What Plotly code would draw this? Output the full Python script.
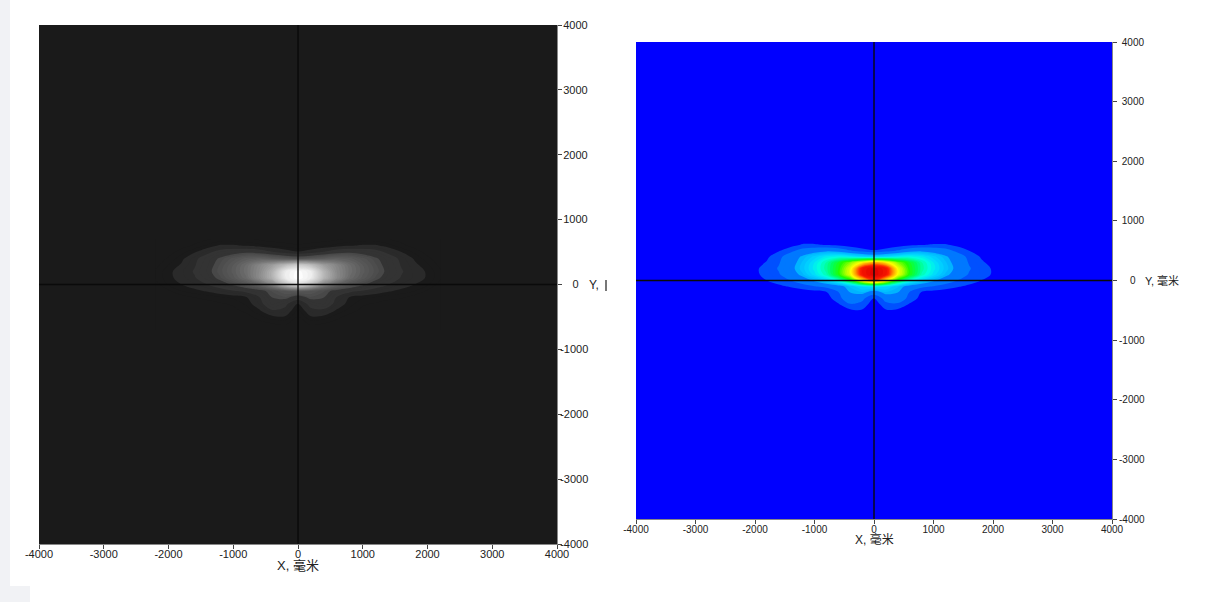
import plotly.graph_objects as go

W, H = 1212, 602
x_mm = [-2200,-2000,-1800,-1600,-1400,-1200,-1000,-800,-600,-400,-200,0,200,400,600,800,1000,1200,1400,1600,1800,2000,2200]
y_mm = [700,600,500,400,300,200,100,0,-100,-200,-300,-400,-500,-600,-700]
intensity = [
 [0,0,0,1,2,3.5,3.5,3,2,1,1,0.5,1,1,2,3,3.5,3.5,2.5,1,0,0,0],
 [0,0,1,3,5.5,8,8,7,6,4.5,3.5,3,3.5,4.5,6,7,8,8,6,3.5,1,0,0],
 [0,1,4,7,11,15,17,18.5,17,13,10,8,10,13,17,18.5,17,15,11,7.5,4.5,1,0],
 [0,3,6.5,11,16,21,26,31,33,31,28,26,28,31,33,31,26,21,16,11,7,3.5,0],
 [1.5,5,8,12,17,23,30,38,48,58,70,78,72,58,48,38,30,23,17,12,8.5,5.5,1.5],
 [3,6.5,9.5,13,18,24,31,39,50,66,92,99,93,68,50,39,31,24,18,13,9.5,7,3],
 [3,6.5,9,12,16,22,29,37,50,66,92,100,93,68,50,37,29,22,16,12,9.5,7,3],
 [1,5.5,7.5,9.5,12.5,16,21,27,35,48,70,85,70,48,35,27,21,16,12.5,9.5,7.5,5.5,1],
 [0,2,5,6.5,8,10,12,14,17,23,28,30,28,23,17,14,12,10,8,6.5,5,2,0],
 [0,0,1,2.5,3.5,4.5,5.5,7,12,20,22,16,22,20,12,7,5.5,4.5,3.5,3,1,0,0],
 [0,0,0,0,1,2,3,5.5,10,18,14,7,15,18,10,6,3,2,1,0,0,0,0],
 [0,0,0,0,0,1,1.5,3.5,7,12,11,4,11,11,7,4,1.5,1,0,0,0,0,0],
 [0,0,0,0,0,0,0.5,1,4,6.5,7,2.5,7,6.5,3.5,1,0.5,0,0,0,0,0,0],
 [0,0,0,0,0,0,0,0,1,2.5,3,1,3,2.5,1,0,0,0,0,0,0,0,0],
 [0,0,0,0,0,0,0,0,0,0,0,0,0,0,0,0,0,0,0,0,0,0,0],
]
tick_vals = [-4000,-3000,-2000,-1000,0,1000,2000,3000,4000]
x_tick_text = ["-4000","-3000","-2000","-1000","0","1000","2000","3000","4000"]
y_tick_text = ["-4000","-3000","-2000","-1000","\u00a0\u00a0\u00a0\u00a00","\u00a01000","\u00a02000","\u00a03000","\u00a04000"]

jet_scale = [
 [0,"#0000ff"],[0.04,"#0000ff"],[0.04,"#0050ff"],[0.10,"#0050ff"],[0.10,"#0078ff"],[0.17,"#0078ff"],
 [0.17,"#00a8ff"],[0.26,"#00d8ff"],[0.32,"#00ffe0"],[0.42,"#00ff60"],[0.5,"#20ff00"],[0.6,"#b0ff00"],
 [0.68,"#ffff00"],[0.78,"#ffa000"],[0.88,"#ff2000"],[1,"#e00000"]]
gray_scale = [
 [0,"#1a1a1a"],[0.04,"#1a1a1a"],[0.04,"#2a2a2a"],[0.10,"#2a2a2a"],[0.10,"#333333"],[0.17,"#333333"],
 [0.17,"#444444"],[0.3,"#5c5c5c"],[0.45,"#808080"],[0.65,"#b0b0b0"],[0.85,"#dcdcdc"],[0.95,"#f2f2f2"],[1,"#ffffff"]]

fig = go.Figure()
panels = [
    dict(sx="x", sy="y", l=39, r=557, t=25, b=544, scale=gray_scale, bg="#1a1a1a", fs=11, xs=-4, ys=-4, tfs=13, ty=-21),
    dict(sx="x2", sy="y2", l=636, r=1112, t=42, b=519, scale=jet_scale, bg="#0000ff", fs=10, xs=-3, ys=0, tfs=12, ty=-20),
]
layout = dict(width=W, height=H, autosize=False, margin=dict(l=0,r=0,t=0,b=0,pad=0,autoexpand=False),
              paper_bgcolor="white", showlegend=False,
              font=dict(family="Liberation Sans, Noto Sans CJK SC", color="#222222"))
shapes, annos = [], []
for i, p in enumerate(panels):
    fig.add_trace(go.Contour(x=x_mm, y=y_mm, z=intensity, xaxis=p["sx"], yaxis=p["sy"],
        colorscale=p["scale"], zmin=0, zmax=100, showscale=False, hoverinfo="skip",
        contours=dict(coloring="fill", start=2.5, end=100, size=2.5, showlines=False),
        line=dict(width=0), line_smoothing=1))
    suffix = "" if i == 0 else "2"
    common = dict(range=[-4000,4000], tickmode="array", tickvals=tick_vals, ticks="outside",
                  ticklen=4, tickcolor="#444444", tickwidth=1, showgrid=False, zeroline=False,
                  showline=True, linecolor="#888888", linewidth=1,
                  tickfont=dict(size=p["fs"], color="#222222"))
    layout["xaxis"+suffix] = dict(common, domain=[p["l"]/W, p["r"]/W], ticktext=x_tick_text,
        anchor="y"+suffix, side="bottom", ticklabelstandoff=p["xs"])
    layout["yaxis"+suffix] = dict(common, domain=[1-p["b"]/H, 1-p["t"]/H], ticktext=y_tick_text,
        anchor="x"+suffix, side="right", ticklabelstandoff=p["ys"])
    shapes.append(dict(type="rect", xref=f"{p['sx']} domain", yref=f"{p['sy']} domain", x0=0,x1=1,y0=0,y1=1,
                       fillcolor=p["bg"], line_width=0, layer="below"))
    for a in [dict(x0=0,x1=0,y0=-4000,y1=4000), dict(x0=-4000,x1=4000,y0=0,y1=0)]:
        shapes.append(dict(type="line", xref=p["sx"], yref=p["sy"], line=dict(color="#0a0a0a", width=1.4), layer="above", **a))
    annos.append(dict(x=0, xref=p["sx"], y=-4000, yref=p["sy"], yshift=p["ty"], yanchor="middle", xanchor="center",
                      text="X, 毫米", showarrow=False, font=dict(size=p["tfs"],color="#222222")))
annos.append(dict(x=4000, xref="x", y=0, yref="y", xshift=30, xanchor="left", yanchor="middle",
                  text="Y,", showarrow=False, font=dict(size=12,color="#222222")))
annos.append(dict(x=4000, xref="x2", y=0, yref="y2", xshift=31, xanchor="left", yanchor="middle",
                  text="Y, 毫米", showarrow=False, font=dict(size=11,color="#222222")))
# page strips around the screenshot
shapes.append(dict(type="rect", xref="paper", yref="paper", x0=0, x1=10/W, y0=0, y1=1, fillcolor="#f1f2f5", line_width=0, layer="below"))
shapes.append(dict(type="rect", xref="paper", yref="paper", x0=0, x1=30/W, y0=0, y1=1-586/H, fillcolor="#f1f2f5", line_width=0, layer="below"))
shapes.append(dict(type="rect", xref="paper", yref="paper", x0=605/W, x1=607/W, y0=1-291/H, y1=1-280/H, fillcolor="#777777", line_width=0, layer="above"))
layout["shapes"] = shapes
layout["annotations"] = annos
fig.update_layout(**layout)
fig.write_html("out.html", config={"displayModeBar": False}, post_script="document.body.style.margin='0';document.body.style.overflow='hidden';")
